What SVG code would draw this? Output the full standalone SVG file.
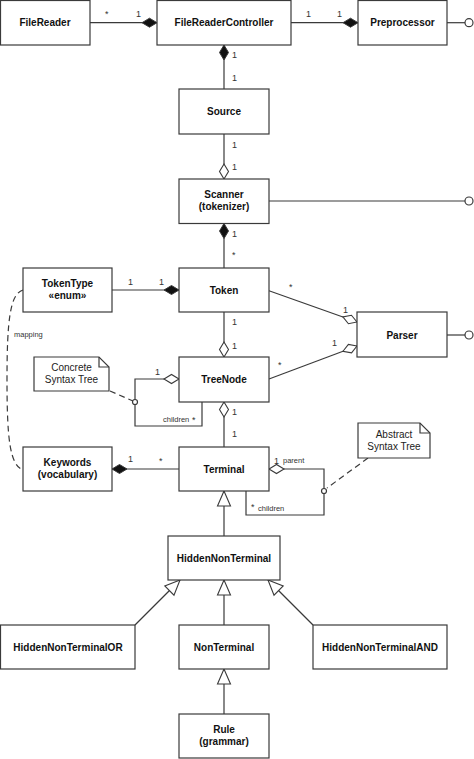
<svg xmlns="http://www.w3.org/2000/svg" width="474" height="759" viewBox="0 0 474 759">
<style>
.box{fill:#fff;stroke:#3a3a3a;stroke-width:1.2}
.t{font-family:"Liberation Sans",Arial,sans-serif;font-size:10px;font-weight:bold;fill:#111;text-anchor:middle}
.n{font-family:"Liberation Sans",Arial,sans-serif;font-size:10px;fill:#222;text-anchor:middle}
.m{font-family:"Liberation Sans",Arial,sans-serif;font-size:9px;fill:#333}
.s{font-family:"Liberation Sans",Arial,sans-serif;font-size:7.5px;fill:#333}
.c{fill:none;stroke:#3a3a3a;stroke-width:1.2}
.d{fill:none;stroke:#3a3a3a;stroke-width:1.2;stroke-dasharray:6 4}
.lol{fill:#fff;stroke:#3a3a3a;stroke-width:1.2}
</style>
<defs>
<marker id="dF" viewBox="-17 -6 18 12" refX="0" refY="0" markerWidth="18" markerHeight="12" orient="auto" markerUnits="userSpaceOnUse"><path d="M0,0 L-7.5,-4.5 L-15,0 L-7.5,4.5 Z" fill="#111" stroke="#3a3a3a" stroke-width="1"/></marker>
<marker id="dH" viewBox="-17 -6 18 12" refX="0" refY="0" markerWidth="18" markerHeight="12" orient="auto" markerUnits="userSpaceOnUse"><path d="M0,0 L-7.5,-4.5 L-15,0 L-7.5,4.5 Z" fill="#fff" stroke="#3a3a3a" stroke-width="1.1"/></marker>
<marker id="tri" viewBox="-17 -8 18 16" refX="0" refY="0" markerWidth="18" markerHeight="16" orient="auto" markerUnits="userSpaceOnUse"><path d="M0,0 L-15,-6.5 L-15,6.5 Z" fill="#fff" stroke="#3a3a3a" stroke-width="1.1"/></marker>
</defs>

<g id="connectors">
<path class="c" d="M90 22.7 L157 22.7" marker-end="url(#dF)"/>
<path class="c" d="M291 22.7 L358 22.7" marker-end="url(#dF)"/>
<path class="c" d="M447 22.7 L465 22.7"/><circle class="lol" cx="469" cy="22.7" r="4"/>
<path class="c" d="M224 89 L224 45" marker-end="url(#dF)"/>
<path class="c" d="M224 134 L224 179" marker-end="url(#dH)"/>
<path class="c" d="M268 201 L465 201"/><circle class="lol" cx="469" cy="201" r="4"/>
<path class="c" d="M224 268 L224 223.5" marker-end="url(#dF)"/>
<path class="c" d="M112 290 L179 290" marker-end="url(#dF)"/>
<path class="c" d="M269 290.7 L357 322" marker-end="url(#dH)"/>
<path class="c" d="M269 379 L357 346" marker-end="url(#dH)"/>
<path class="c" d="M447 335 L465 335"/><circle class="lol" cx="469" cy="335" r="4"/>
<path class="c" d="M224 312 L224 357" marker-end="url(#dH)"/>
<path class="c" d="M202 402 L202 426 L135 426 L135 379 L179 379" marker-end="url(#dH)"/>
<path class="d" d="M110 391 L133 401"/>
<circle class="lol" cx="135" cy="402" r="2.5"/>
<path class="c" d="M224 447 L224 402" marker-end="url(#dH)"/>
<path class="c" d="M179 469 L112 469" marker-end="url(#dF)"/>
<path class="d" d="M23 290 C10 294 7 320 7 380 C7 440 10 465 23 470"/>
<path class="c" d="M246 491 L246 515 L324 515 L324 469 L269 469" marker-end="url(#dH)"/>
<path class="d" d="M368 458 L327 488"/>
<circle class="lol" cx="324" cy="491" r="2.5"/>
<path class="c" d="M224 536 L224 491" marker-end="url(#tri)"/>
<path class="c" d="M135 625 L180 580" marker-end="url(#tri)"/>
<path class="c" d="M224 625 L224 580" marker-end="url(#tri)"/>
<path class="c" d="M313 625 L268 580" marker-end="url(#tri)"/>
<path class="c" d="M224 714 L224 669" marker-end="url(#tri)"/>

<text class="m" x="105" y="17">*</text>
<text class="m" x="136" y="17">1</text>
<text class="m" x="306" y="17">1</text>
<text class="m" x="337" y="17">1</text>
<text class="m" x="232" y="58">1</text>
<text class="m" x="232" y="81">1</text>
<text class="m" x="232" y="148">1</text>
<text class="m" x="232" y="170">1</text>
<text class="m" x="232" y="237">1</text>
<text class="m" x="232" y="258">*</text>
<text class="m" x="128" y="285">1</text>
<text class="m" x="159" y="285">1</text>
<text class="m" x="289" y="290">*</text>
<text class="m" x="343" y="313">1</text>
<text class="m" x="278" y="368">*</text>
<text class="m" x="332" y="346">1</text>
<text class="m" x="232" y="325">1</text>
<text class="m" x="232" y="349">1</text>
<text class="m" x="155" y="375">1</text>
<text class="s" x="163" y="422">children</text>
<text class="m" x="192" y="423">*</text>
<text class="m" x="232" y="415">1</text>
<text class="m" x="232" y="437">1</text>
<text class="m" x="128" y="462">1</text>
<text class="m" x="159" y="464">*</text>
<text class="s" x="14" y="337">mapping</text>
<text class="m" x="274" y="464">1</text>
<text class="s" x="283" y="463">parent</text>
<text class="m" x="251" y="510">*</text>
<text class="s" x="258" y="511">children</text>
</g>

<g id="FileReader"><rect class="box" x="0.5" y="0.5" width="89.5" height="44.5"/><text class="t" x="45" y="26">FileReader</text></g>
<g id="FileReaderController"><rect class="box" x="157" y="0.5" width="134" height="44.5"/><text class="t" x="224" y="26">FileReaderController</text></g>
<g id="Preprocessor"><rect class="box" x="358" y="0.5" width="89" height="44.5"/><text class="t" x="402.5" y="26">Preprocessor</text></g>
<g id="Source"><rect class="box" x="179" y="89" width="90" height="45"/><text class="t" x="224" y="115">Source</text></g>
<g id="Scanner"><rect class="box" x="179" y="179" width="90" height="44.5"/><text class="t" x="224" y="198">Scanner</text><text class="t" x="224" y="210">(tokenizer)</text></g>
<g id="TokenType"><rect class="box" x="23" y="268" width="89" height="44"/><text class="t" x="67.5" y="287">TokenType</text><text class="t" x="67.5" y="299">«enum»</text></g>
<g id="Token"><rect class="box" x="179" y="268" width="90" height="44"/><text class="t" x="224" y="293.5">Token</text></g>
<g id="Parser"><rect class="box" x="357" y="312" width="90" height="45"/><text class="t" x="402" y="338.5">Parser</text></g>
<g id="TreeNode"><rect class="box" x="179" y="357" width="90" height="45"/><text class="t" x="224" y="383">TreeNode</text></g>
<g id="ConcreteNote"><path class="box" d="M34 357 L99 357 L109 367 L109 391 L34 391 Z"/><path class="c" d="M99 357 L99 367 L109 367"/><text class="n" x="71.5" y="371">Concrete</text><text class="n" x="71.5" y="383">Syntax Tree</text></g>
<g id="Keywords"><rect class="box" x="23" y="447" width="89" height="44"/><text class="t" x="67.5" y="465.5">Keywords</text><text class="t" x="67.5" y="477.5">(vocabulary)</text></g>
<g id="Terminal"><rect class="box" x="179" y="447" width="90" height="44"/><text class="t" x="224" y="472.5">Terminal</text></g>
<g id="AbstractNote"><path class="box" d="M358 423 L420 423 L430 433 L430 458 L358 458 Z"/><path class="c" d="M420 423 L420 433 L430 433"/><text class="n" x="394" y="437.5">Abstract</text><text class="n" x="394" y="449.5">Syntax Tree</text></g>
<g id="HiddenNonTerminal"><rect class="box" x="168" y="536" width="112" height="44"/><text class="t" x="224" y="561.5">HiddenNonTerminal</text></g>
<g id="HiddenNonTerminalOR"><rect class="box" x="0.5" y="625" width="134.5" height="44"/><text class="t" x="68" y="650.5">HiddenNonTerminalOR</text></g>
<g id="NonTerminal"><rect class="box" x="179" y="625" width="90" height="44"/><text class="t" x="224" y="650.5">NonTerminal</text></g>
<g id="HiddenNonTerminalAND"><rect class="box" x="313" y="625" width="134" height="44"/><text class="t" x="380" y="650.5">HiddenNonTerminalAND</text></g>
<g id="Rule"><rect class="box" x="179" y="714" width="90" height="44"/><text class="t" x="224" y="733">Rule</text><text class="t" x="224" y="745">(grammar)</text></g>
</svg>
